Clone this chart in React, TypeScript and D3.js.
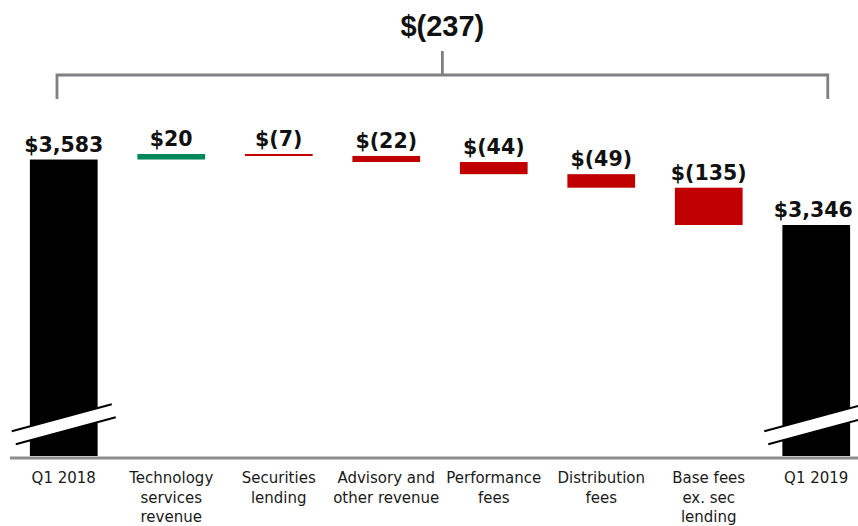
import React from 'react';
import { scaleBand, scaleLinear, line } from 'd3';

// waterfall data
const categories = [
    'Q1 2018',
    'Technology services revenue',
    'Securities lending',
    'Advisory and other revenue',
    'Performance fees',
    'Distribution fees',
    'Base fees ex. sec lending',
    'Q1 2019',
];
const tickLabels = [
    ['Q1 2018'],
    ['Technology', 'services', 'revenue'],
    ['Securities', 'lending'],
    ['Advisory and', 'other revenue'],
    ['Performance', 'fees'],
    ['Distribution', 'fees'],
    ['Base fees', 'ex. sec', 'lending'],
    ['Q1 2019'],
];
const values = [3583, 20, -7, -22, -44, -49, -135, 3346];
const isTotal = [true, false, false, false, false, false, false, true];
const valueLabels = ['$3,583', '$20', '$(7)', '$(22)', '$(44)', '$(49)', '$(135)', '$3,346'];
const totalChangeLabel = '$(237)';

const W = 858;
const H = 526;
const GREEN = '#00875a';
const RED = '#c00000';
const GREY = '#808084';

// axis is broken, bars start well above zero
const AXIS_MIN = 2510;
const BREAK_AT = 2625;

function App() {
    const x = scaleBand<string>()
        .domain(categories)
        .range([10, 870])
        .paddingInner(0.37)
        .paddingOuter(0.185);

    const y = scaleLinear().domain([AXIS_MIN, 3603]).range([456, 154]);

    // running totals for the floating bars
    let running = 0;
    const bars = categories.map((c, i) => {
        let lo, hi, fill;
        if (isTotal[i]) {
            running = values[i];
            lo = AXIS_MIN;
            hi = values[i];
            fill = '#000';
        } else {
            const start = running;
            running += values[i];
            lo = Math.min(start, running);
            hi = Math.max(start, running);
            fill = values[i] >= 0 ? GREEN : RED;
        }
        return { c, i, lo, hi, fill };
    });

    const bw = x.bandwidth();
    const first = x(categories[0]);
    const last = x(categories[categories.length - 1]);
    const bracketL = first + bw * 0.4;
    const bracketR = last + bw * 0.67;
    const bracketMid = (bracketL + bracketR) / 2;
    const bracketY = 75;

    const slash = line();

    return (
        <svg width={W} height={H} style={{ position: 'absolute', left: 0, top: 0 }}>
            <rect width={W} height={H} fill="#fff" />

            {/* total change bracket */}
            <text
                x={bracketMid}
                y={36}
                textAnchor="middle"
                fontFamily="'Liberation Sans', Arial, sans-serif"
                fontWeight="bold"
                fontSize={29}
                fill="#111"
            >
                {totalChangeLabel}
            </text>
            <path
                d={`M${bracketL},99V${bracketY}H${bracketR}V99M${bracketMid},${bracketY}V51`}
                fill="none"
                stroke={GREY}
                strokeWidth={2.8}
            />

            {bars.map(b => (
                <rect
                    key={b.c}
                    x={x(b.c)}
                    y={y(b.hi)}
                    width={bw}
                    height={Math.max(2, y(b.lo) - y(b.hi))}
                    fill={b.fill}
                />
            ))}

            {/* axis break marks on the total bars */}
            {bars.filter(b => isTotal[b.i]).map(b => {
                const cx = x(b.c) + bw / 2;
                const cy = y(BREAK_AT);
                const k = -0.27;
                const up = [[cx - 52, cy - 7 - k * 52], [cx + 48, cy - 7 + k * 48]];
                const dn = [[cx - 48, cy + 7 - k * 48], [cx + 52, cy + 7 + k * 52]];
                const poly = [up[0], up[1], dn[1], dn[0]];
                return (
                    <g key={'brk' + b.c}>
                        <path d={slash(poly) + 'Z'} fill="#fff" />
                        <path d={slash(up)} stroke="#000" strokeWidth={2} />
                        <path d={slash(dn)} stroke="#000" strokeWidth={2} />
                    </g>
                );
            })}

            {/* value labels */}
            {bars.map(b => (
                <text
                    key={'v' + b.c}
                    x={x(b.c) + bw / 2 - (b.i === categories.length - 1 ? 3 : 0)}
                    y={y(b.hi) - 8}
                    textAnchor="middle"
                    fontFamily="'DejaVu Sans', sans-serif"
                    fontWeight="bold"
                    fontSize={20.5}
                    fill="#111"
                >
                    {valueLabels[b.i]}
                </text>
            ))}

            {/* baseline */}
            <line x1={10} x2={W} y1={458} y2={458} stroke="#8c8c8c" strokeWidth={3} />

            {categories.map((c, i) => (
                <text
                    key={'t' + c}
                    x={x(c) + bw / 2}
                    y={483}
                    textAnchor="middle"
                    fontFamily="'DejaVu Sans', sans-serif"
                    fontSize={15}
                    fill="#1a1a1a"
                >
                    {tickLabels[i].map((s, j) => (
                        <tspan key={j} x={x(c) + bw / 2} dy={j === 0 ? 0 : 19.5}>
                            {s}
                        </tspan>
                    ))}
                </text>
            ))}
        </svg>
    );
}

export default App;
